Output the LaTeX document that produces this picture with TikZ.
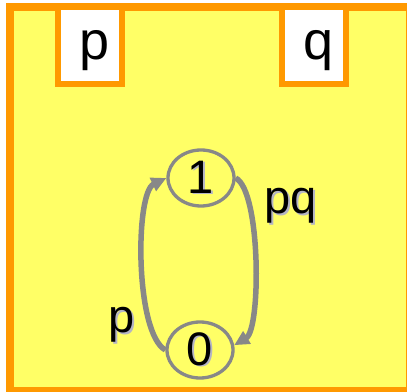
\documentclass[tikz,border=0pt]{standalone}
\usepackage{fontspec}
\setmainfont{Liberation Sans}
\usepackage{tikz}
\usetikzlibrary{arrows.meta,shapes.geometric}

\definecolor{bgyellow}{HTML}{FFFF66}
\definecolor{rimorange}{HTML}{FF9900}
\definecolor{arcgray}{HTML}{888888}
\definecolor{shadowgray}{HTML}{B4B4C4}

\newcommand{\shtext}[1]{\makebox[0pt][l]{\raisebox{-1.6pt}{\hspace{1.6pt}\textcolor{shadowgray}{#1}}}#1}

\tikzset{
  state/.style={ellipse, draw=arcgray, line width=3.3pt, minimum width=66pt, minimum height=56pt, inner sep=0pt, font=\fontsize{47}{50}\selectfont},
  arc/.style={draw=arcgray, line width=5.5pt, -{Triangle[length=15pt,width=14pt]}},
  box/.style={fill=white, draw=rimorange, line width=6pt},
  lbl/.style={anchor=base, inner sep=0pt, font=\fontsize{47}{50}\selectfont}
}

\begin{document}
\begin{tikzpicture}[x=1pt,y=1pt]
    \useasboundingbox (0,0) rectangle (407,391);
    \clip (0,0) rectangle (407,391);

    \filldraw[fill=bgyellow, draw=rimorange, line width=8pt] (10,0) rectangle (410,384);

    \draw[box] (58,307) rectangle (122,384);
    \draw[box] (282,307) rectangle (346,384);
    \node[lbl, font=\fontsize{54}{58}\selectfont] (lp) at (95,331) {p};
    \node[lbl, font=\fontsize{54}{58}\selectfont] (lq) at (319,331) {q};

    \node[state] (s1) at (201,213) {\shtext{1}};
    \node[state] (s0) at (200,41) {\shtext{0}};

    \draw[arc] (s0.west) .. controls (135,58) and (135,198) .. (s1.west);
    \draw[arc] (s1.east) .. controls (261,200) and (261,62) .. (s0.8);

    \node[lbl] (lpq) at (291,177) {\shtext{pq}};
    \node[lbl] (lpl) at (122,58) {\shtext{p}};
\end{tikzpicture}
\end{document}
